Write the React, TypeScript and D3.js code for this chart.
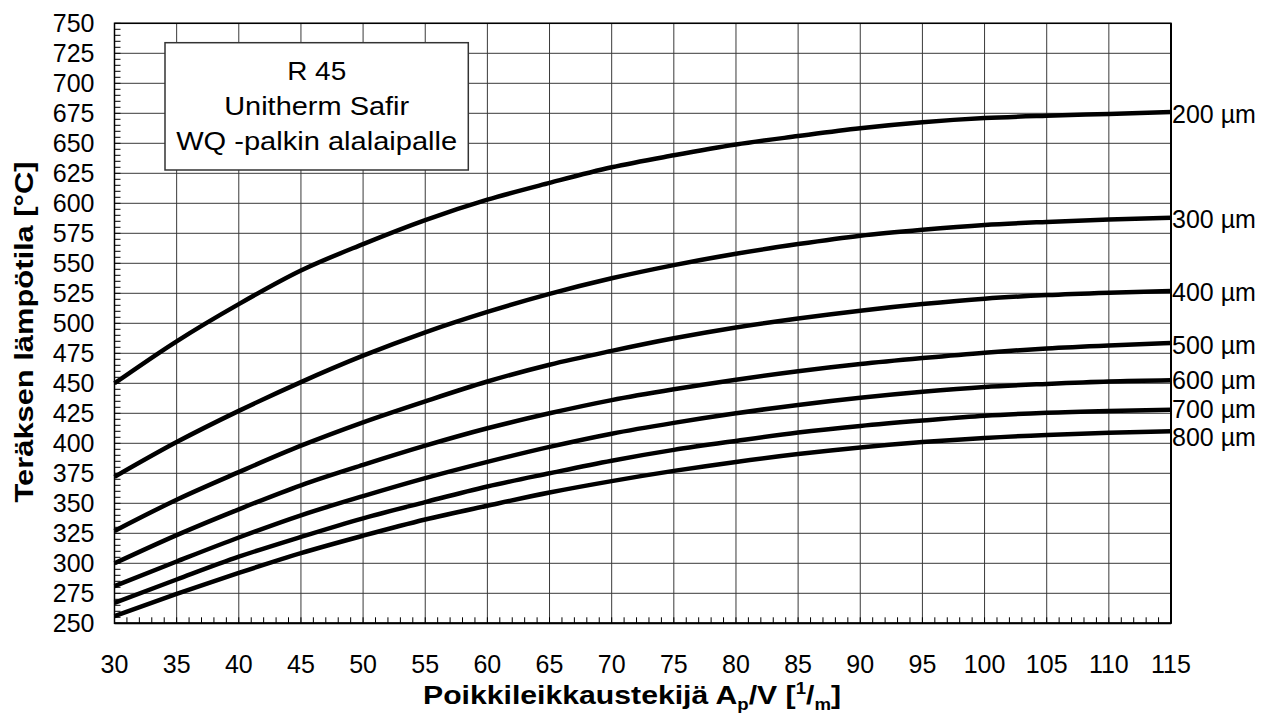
import * as d3 from 'd3'

const W = 1266
const H = 718
const PLOT = { left: 114.5, right: 1171, top: 23.3, bottom: 623.3 }

const FONT = '"Liberation Sans", Arial, sans-serif'

// section factor Ap/V [1/m]
const xValues = [30, 35, 40, 45, 50, 55, 60, 65, 70, 75, 80, 85, 90, 95, 100, 105, 110, 115]

// steel temperature [°C] per paint thickness
const t200 = [450, 485, 516, 544, 566, 586, 603, 617, 630, 640, 649, 656, 662.5, 667.5, 671, 673, 674.5, 676]
const t300 = [372, 401, 427, 451, 473, 492.5, 509.5, 524.5, 537.5, 548.5, 558, 566, 573, 578, 582, 584.5, 586.5, 588]
const t400 = [327, 353, 376, 398, 417.5, 435, 451.5, 465.5, 477, 487.5, 496.5, 504, 510.5, 516, 520.5, 523.5, 525.5, 527]
const t500 = [300, 323.5, 345, 365, 382, 398, 412.5, 425, 436, 445, 453, 460, 466, 471, 475.5, 479, 481.5, 483.5]
const t600 = [281, 301.5, 321.5, 340, 356, 371, 384.5, 397, 408, 417, 425, 432, 438, 443, 447, 449.5, 451.5, 452.5]
const t700 = [267, 286.5, 305.5, 322, 337.5, 351, 364, 375, 385.5, 394.5, 402, 409, 414.5, 419, 423, 425.5, 427, 428]
const t800 = [256, 274.5, 292, 308.5, 323, 336.5, 348, 359, 368.5, 377, 384.5, 391, 396.5, 401, 404.5, 407, 408.8, 410]

const seriesNames = ['200 µm', '300 µm', '400 µm', '500 µm', '600 µm', '700 µm', '800 µm']
const seriesValues = [t200, t300, t400, t500, t600, t700, t800]

const xTicks = d3.range(30, 116, 5)
const yTicks = d3.range(250, 751, 25)
const xMinor = d3.range(30, 116, 1)
const yMinor = d3.range(250, 751, 5)

const boxLines = ['R 45', 'Unitherm Safir', 'WQ -palkin alalaipalle']

// push end labels apart so they don't collide
function spreadLabels(ys: number[], gap: number) {
  const out = ys.slice()
  for (let k = 0; k < 50; k++) {
    for (let i = 1; i < out.length; i++) {
      const d = out[i] - out[i - 1]
      if (d < gap) {
        const shift = (gap - d) / 2
        out[i - 1] -= shift
        out[i] += shift
      }
    }
  }
  return out
}

export default function App() {
  const x = d3.scaleLinear().domain([30, 115]).range([PLOT.left, PLOT.right])
  const y = d3.scaleLinear().domain([250, 750]).range([PLOT.bottom, PLOT.top])

  const line = d3
    .line<number>()
    .x((_, i) => x(xValues[i]))
    .y((d) => y(d))
    .curve(d3.curveMonotoneX)

  const labelY = spreadLabels(
    seriesValues.map((vals) => y(vals[vals.length - 1]) + 1.5),
    28.5
  )

  const gridColor = '#3a3a3a'

  return (
    <svg
      width={W}
      height={H}
      style={{ position: 'absolute', left: 0, top: 0, background: '#fff', fontFamily: FONT }}
    >
      <rect x={0} y={0} width={W} height={H} fill="#fff" />

      {/* grid */}
      {xTicks.map((v) => (
        <line key={`gx${v}`} x1={x(v)} x2={x(v)} y1={PLOT.top} y2={PLOT.bottom} stroke={gridColor} strokeWidth={1} />
      ))}
      {yTicks.map((v) => (
        <line key={`gy${v}`} x1={PLOT.left} x2={PLOT.right} y1={y(v)} y2={y(v)} stroke={gridColor} strokeWidth={1} />
      ))}

      {/* minor ticks */}
      {xMinor.map((v) => (
        <line key={`mx${v}`} x1={x(v)} x2={x(v)} y1={PLOT.bottom} y2={PLOT.bottom - 6} stroke="#000" strokeWidth={1} />
      ))}
      {yMinor.map((v) => (
        <line key={`my${v}`} x1={PLOT.left} x2={PLOT.left + 6} y1={y(v)} y2={y(v)} stroke="#000" strokeWidth={1} />
      ))}

      {/* frame */}
      <rect
        x={PLOT.left}
        y={PLOT.top}
        width={PLOT.right - PLOT.left}
        height={PLOT.bottom - PLOT.top}
        fill="none"
        stroke="#000"
        strokeWidth={1.5}
      />
      <line x1={PLOT.left} x2={PLOT.right} y1={PLOT.bottom} y2={PLOT.bottom} stroke="#000" strokeWidth={2} />
      <line x1={PLOT.right} x2={PLOT.right} y1={PLOT.top} y2={PLOT.bottom} stroke="#000" strokeWidth={2} />

      {/* curves */}
      {seriesValues.map((vals, i) => (
        <path key={seriesNames[i]} d={line(vals) ?? ''} fill="none" stroke="#000" strokeWidth={4.5} />
      ))}

      {/* curve labels */}
      {seriesNames.map((name, i) => (
        <text key={`l${i}`} x={PLOT.right + 1} y={labelY[i]} dy="0.36em" fontSize={25} fill="#000">
          {name}
        </text>
      ))}

      {/* tick labels */}
      {xTicks.map((v) => (
        <text key={`tx${v}`} x={x(v)} y={673} textAnchor="middle" fontSize={25} fill="#000">
          {v}
        </text>
      ))}
      {yTicks.map((v) => (
        <text key={`ty${v}`} x={94.5} y={y(v)} dy="0.36em" textAnchor="end" fontSize={25} fill="#000">
          {v}
        </text>
      ))}

      {/* info box */}
      <rect x={165} y={42.7} width={303.3} height={127.3} fill="#fff" stroke="#333" strokeWidth={1.5} />
      {boxLines.map((t, i) => (
        <text
          key={t}
          x={316.7}
          y={80 + i * 35}
          textAnchor="middle"
          fontSize={26}
          textLength={[59, 185, 281][i]}
          lengthAdjust="spacingAndGlyphs"
          fill="#000"
        >
          {t}
        </text>
      ))}

      {/* axis titles */}
      <text
        transform="translate(32.5,332) rotate(-90)"
        textAnchor="middle"
        fontSize={26}
        fontWeight="bold"
        textLength={341}
        lengthAdjust="spacingAndGlyphs"
        fill="#000"
      >
        Teräksen lämpötila [°C]
      </text>
      <text
        x={632}
        y={704.3}
        textAnchor="middle"
        fontSize={26}
        fontWeight="bold"
        textLength={418}
        lengthAdjust="spacingAndGlyphs"
        fill="#000"
      >
        Poikkileikkaustekijä A
        <tspan fontSize={16} dy={6}>p</tspan>
        <tspan dy={-6}>/V [</tspan>
        <tspan fontSize={16} dy={-10}>1</tspan>
        <tspan dy={10}>/</tspan>
        <tspan fontSize={16} dy={6}>m</tspan>
        <tspan dy={-6}>]</tspan>
      </text>
    </svg>
  )
}
